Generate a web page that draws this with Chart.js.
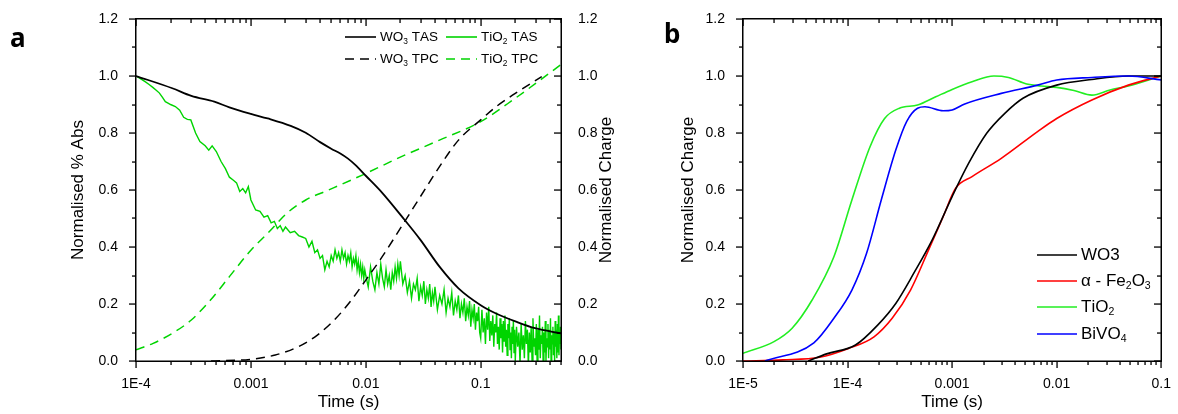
<!DOCTYPE html>
<html>
<head>
<meta charset="utf-8">
<script src="https://cdn.jsdelivr.net/npm/chart.js@4"></script>
<style>
  body { margin: 0; background: #fff; width: 1178px; height: 414px; position: relative; overflow: hidden; }
  #chartA { position: absolute; left: 0; top: 0; }
  #chartB { position: absolute; left: 650px; top: 0; }
</style>
</head>
<body>
<canvas id="chartA" width="650" height="414"></canvas>
<canvas id="chartB" width="528" height="414"></canvas>
<script>
// ---- Panel a data (time in s) ----
const wo3TasT = [1e-4, 2.07e-4, 3.03e-4, 4.8e-4, 6.5e-4, 1e-3, 1.4e-3, 2.22e-3, 3.0e-3, 4.0e-3, 5.0e-3, 6.0e-3, 7.0e-3, 8.1e-3, 0.01, 0.0139, 0.0204, 0.0299, 0.0438, 0.0641, 0.1, 0.139, 0.203, 0.297, 0.5];
const wo3TasV = [1.0, 0.957, 0.930, 0.910, 0.890, 0.867, 0.851, 0.825, 0.801, 0.768, 0.745, 0.728, 0.710, 0.688, 0.650, 0.590, 0.509, 0.425, 0.331, 0.255, 0.196, 0.165, 0.138, 0.115, 0.097];

const tiTasT = [
  1.0e-4, 1.1e-4, 1.2e-4, 1.3e-4, 1.4e-4, 1.5e-4, 1.6e-4, 1.7e-4, 1.8e-4, 1.9e-4, 2.0e-4, 2.2e-4, 2.4e-4, 2.6e-4, 2.8e-4, 3.0e-4, 3.3e-4, 3.6e-4, 4.0e-4, 4.3e-4, 4.6e-4, 5.0e-4, 5.5e-4, 6.0e-4, 6.5e-4, 7.0e-4, 7.5e-4, 8.0e-4, 8.5e-4, 9.0e-4, 9.5e-4,
  1.0e-3, 1.1e-3, 1.2e-3, 1.3e-3, 1.4e-3, 1.5e-3, 1.6e-3, 1.7e-3, 1.8e-3, 1.9e-3, 2.0e-3, 2.2e-3, 2.4e-3, 2.6e-3, 2.8e-3,
  3.0e-3, 3.2e-3, 3.4e-3, 3.6e-3, 3.8e-3, 4.0e-3, 4.2e-3, 4.4e-3, 4.6e-3, 4.8e-3, 5.0e-3, 5.2e-3, 5.4e-3, 5.6e-3, 5.8e-3, 6.0e-3, 6.2e-3, 6.4e-3, 6.6e-3, 6.8e-3,
  7.0e-3, 7.2e-3, 7.4e-3, 7.6e-3, 7.8e-3, 8.0e-3, 8.2e-3, 8.4e-3, 8.6e-3, 8.8e-3, 9.0e-3, 9.2e-3, 9.4e-3, 9.6e-3, 9.8e-3,
  0.0100, 0.0105, 0.0110, 0.0115, 0.0120, 0.0125, 0.0130, 0.0135, 0.0140, 0.0145, 0.0150, 0.0155, 0.0160, 0.0165, 0.0170, 0.0175, 0.0180, 0.0185, 0.0190, 0.0195,
  0.020, 0.021, 0.022, 0.023, 0.024, 0.025, 0.026, 0.027, 0.028, 0.029, 0.030, 0.031, 0.032, 0.033, 0.034, 0.035, 0.036, 0.037, 0.038, 0.039,
  0.040, 0.042, 0.044, 0.046, 0.048, 0.050, 0.052, 0.054, 0.056, 0.058, 0.060, 0.062, 0.064, 0.066, 0.068, 0.070, 0.072, 0.074, 0.076, 0.078, 0.080, 0.082, 0.084, 0.086, 0.088, 0.090, 0.092, 0.094, 0.096, 0.098,
  0.1000, 0.1025, 0.1050, 0.1075, 0.1100, 0.1125, 0.1150, 0.1175, 0.1200, 0.1225, 0.1250, 0.1275, 0.1300, 0.1325, 0.1350, 0.1375, 0.1400, 0.1425, 0.1450, 0.1475,
  0.1500, 0.1525, 0.1550, 0.1575, 0.1600, 0.1625, 0.1650, 0.1675, 0.1700, 0.1725, 0.1750, 0.1775, 0.1800, 0.1825, 0.1850, 0.1875, 0.1900, 0.1925, 0.1950, 0.1975,
  0.200, 0.205, 0.210, 0.215, 0.220, 0.225, 0.230, 0.235, 0.240, 0.245, 0.250, 0.255, 0.260, 0.265, 0.270, 0.275, 0.280, 0.285, 0.290, 0.295,
  0.300, 0.305, 0.310, 0.315, 0.320, 0.325, 0.330, 0.335, 0.340, 0.345, 0.350, 0.355, 0.360, 0.365, 0.370, 0.375, 0.380, 0.385, 0.390, 0.395,
  0.400, 0.405, 0.410, 0.415, 0.420, 0.425, 0.430, 0.435, 0.440, 0.445, 0.450, 0.455, 0.460, 0.465, 0.470, 0.475, 0.480, 0.485, 0.490, 0.495, 0.500
];
const tiTasV = [
  1.00, 0.99, 0.98, 0.97, 0.96, 0.95, 0.94, 0.925, 0.91, 0.905, 0.90, 0.893, 0.88, 0.855, 0.848, 0.846, 0.80, 0.77, 0.755, 0.74, 0.755, 0.735, 0.70, 0.675, 0.645, 0.635, 0.625, 0.595, 0.605, 0.59, 0.612,
  0.565, 0.53, 0.525, 0.505, 0.51, 0.485, 0.49, 0.465, 0.475, 0.455, 0.47, 0.45, 0.455, 0.44, 0.435,
  0.43, 0.40, 0.42, 0.38, 0.39, 0.36, 0.37, 0.32, 0.35, 0.33, 0.37, 0.35, 0.39, 0.36, 0.38, 0.35, 0.39, 0.36, 0.38, 0.34,
  0.37, 0.35, 0.38, 0.33, 0.36, 0.34, 0.37, 0.32, 0.35, 0.31, 0.34, 0.30, 0.33, 0.29, 0.32,
  0.30, 0.26, 0.33, 0.28, 0.25, 0.31, 0.27, 0.34, 0.29, 0.26, 0.32, 0.27, 0.30, 0.25, 0.31, 0.28, 0.33, 0.29, 0.34, 0.30,
  0.35, 0.27, 0.30, 0.24, 0.28, 0.22, 0.27, 0.25, 0.29, 0.21, 0.26, 0.23, 0.28, 0.20, 0.25, 0.22, 0.27, 0.19, 0.24, 0.21,
  0.26, 0.18, 0.23, 0.20, 0.25, 0.17, 0.22, 0.19, 0.24, 0.16, 0.21, 0.18, 0.23, 0.15, 0.20, 0.17, 0.22, 0.14, 0.19, 0.16, 0.21, 0.12, 0.18, 0.15, 0.20, 0.11, 0.17, 0.14, 0.19, 0.10,
  0.08, 0.18, 0.10, 0.15, 0.06, 0.17, 0.11, 0.19, 0.07, 0.14, 0.09, 0.16, 0.05, 0.13, 0.10, 0.17, 0.06, 0.12, 0.04, 0.15,
  0.08, 0.13, 0.03, 0.14, 0.07, 0.16, 0.05, 0.11, 0.02, 0.13, 0.08, 0.15, 0.04, 0.10, 0.01, 0.12, 0.06, 0.14, 0.03, 0.11,
  0.00, 0.12, 0.05, 0.10, -0.01, 0.13, 0.04, 0.09, 0.01, 0.14, 0.06, 0.11, -0.02, 0.10, 0.03, 0.12, 0.00, 0.15, 0.05, 0.08,
  0.02, 0.13, -0.01, 0.11, 0.04, 0.16, 0.01, 0.09, 0.06, 0.12, -0.02, 0.10, 0.03, 0.14, 0.00, 0.08, 0.05, 0.13, 0.01, 0.11,
  0.04, 0.15, -0.01, 0.09, 0.06, 0.12, 0.02, 0.10, 0.00, 0.14, 0.05, 0.11, 0.01, 0.13, 0.03, 0.16, 0.02, 0.10, 0.06, 0.12, 0.04
];

const wo3TpcT = [4.5e-4, 1e-3, 1.63e-3, 2.58e-3, 3.79e-3, 5.5e-3, 7.5e-3, 0.01, 0.0139, 0.0204, 0.0299, 0.0438, 0.0641, 0.1, 0.139, 0.2, 0.34];
const wo3TpcV = [0.0, 0.006, 0.021, 0.05, 0.091, 0.15, 0.214, 0.284, 0.366, 0.471, 0.577, 0.682, 0.775, 0.846, 0.895, 0.939, 0.998];

const tiTpcT = [1e-4, 1.41e-4, 2.07e-4, 3.03e-4, 4.45e-4, 6.5e-4, 1e-3, 1.4e-3, 2.05e-3, 3e-3, 4.75e-3, 0.01, 0.0204, 0.0438, 0.1, 0.2, 0.5];
const tiTpcV = [0.039, 0.062, 0.097, 0.144, 0.214, 0.296, 0.389, 0.448, 0.518, 0.565, 0.60, 0.658, 0.717, 0.775, 0.840, 0.922, 1.04];

// ---- Panel b data ----
const bWo3T = [4.2e-5, 6.3e-5, 1.19e-4, 1.94e-4, 2.89e-4, 4.3e-4, 6.45e-4, 1e-3, 1.44e-3, 2.14e-3, 3.19e-3, 4.76e-3, 0.01, 0.0217, 0.0484, 0.1];
const bWo3V = [0.0, 0.025, 0.056, 0.126, 0.202, 0.308, 0.425, 0.577, 0.694, 0.799, 0.869, 0.922, 0.968, 0.988, 1.0, 1.0];

const bFeT = [1e-5, 2.4e-5, 5.4e-5, 1.02e-4, 1.79e-4, 2.67e-4, 4e-4, 5.94e-4, 8.2e-4, 1.08e-3, 1.55e-3, 2.95e-3, 6.56e-3, 0.01, 0.0217, 0.0484, 0.1];
const bFeV = [0.0, 0.004, 0.013, 0.044, 0.085, 0.15, 0.249, 0.389, 0.506, 0.606, 0.647, 0.711, 0.805, 0.851, 0.916, 0.968, 1.0];

const bTiT = [1e-5, 1.98e-5, 2.95e-5, 4.58e-5, 7.4e-5, 1.1e-4, 1.64e-4, 2.26e-4, 3.13e-4, 4.67e-4, 6.97e-4, 1e-3, 1.55e-3, 2.51e-3, 3.46e-3, 5.16e-3, 7.1e-3, 0.01, 0.0146, 0.0217, 0.0324, 0.0484, 0.1];
const bTiV = [0.027, 0.068, 0.115, 0.214, 0.366, 0.565, 0.752, 0.851, 0.887, 0.898, 0.927, 0.953, 0.98, 1.0, 0.995, 0.972, 0.965, 0.96, 0.949, 0.933, 0.951, 0.965, 1.0];

const bBiT = [1.62e-5, 4.76e-5, 7.4e-5, 1.1e-4, 1.52e-4, 2.1e-4, 2.89e-4, 3.67e-4, 4.67e-4, 5.5e-4, 8.2e-4, 1e-3, 1.32e-3, 2.95e-3, 6.56e-3, 0.01, 0.0217, 0.0484, 0.1];
const bBiV = [0.0, 0.064, 0.15, 0.249, 0.378, 0.565, 0.74, 0.84, 0.887, 0.892, 0.878, 0.881, 0.902, 0.939, 0.968, 0.986, 0.995, 1.0, 0.986];

// ---- Ticks and names ----
const xTickValsA = [1e-4, 1e-3, 1e-2, 1e-1];
const xTickLabelsA = ['1E-4', '0.001', '0.01', '0.1'];
const xTickValsB = [1e-5, 1e-4, 1e-3, 1e-2, 1e-1];
const xTickLabelsB = ['1E-5', '1E-4', '0.001', '0.01', '0.1'];
const yTickVals = [0, 0.2, 0.4, 0.6, 0.8, 1.0, 1.2];
const yTickLabels = ['0.0', '0.2', '0.4', '0.6', '0.8', '1.0', '1.2'];
const namesA = ['WO_3 TAS', 'WO_3 TPC', 'TiO_2 TAS', 'TiO_2 TPC'];
const namesB = ['WO3', 'α - Fe_2O_3', 'TiO_2', 'BiVO_4'];

const FONT = '"Liberation Sans", Arial, sans-serif';
const pts = (t, v) => t.map((x, i) => ({ x: x, y: v[i] }));

// text with "_n" subscripts
function drawRich(ctx, text, x, y, size) {
  for (let i = 0; i < text.length; i++) {
    let ch = text[i], sub = false;
    if (ch === '_') { ch = text[++i]; sub = true; }
    ctx.font = (sub ? size * 0.62 : size) + 'px ' + FONT;
    ctx.fillText(ch, x, y + (sub ? size * 0.32 : 0));
    x += ctx.measureText(ch).width;
  }
}

// frame, ticks on all sides, legend, extra labels
const decor = {
  id: 'decor',
  afterDraw(chart, args, o) {
    const { ctx, chartArea: a } = chart;
    const xs = chart.scales.x, ys = chart.scales.y;
    const L = Math.round(a.left), R = Math.round(a.right), T = Math.round(a.top), B = Math.round(a.bottom);
    ctx.save();
    ctx.setLineDash([]);
    ctx.fillStyle = '#000';
    // frame
    ctx.fillRect(L - 1, T - 1, R - L + 2, 1.5);
    ctx.fillRect(L - 1, B - 0.5, R - L + 2, 1.5);
    ctx.fillRect(L - 1, T - 1, 1.5, B - T + 2);
    ctx.fillRect(R - 0.5, T - 1, 1.5, B - T + 2);
    // log ticks: bottom outward, top inward
    const d0 = Math.floor(Math.log10(xs.min) + 1e-9), d1 = Math.ceil(Math.log10(xs.max) - 1e-9);
    for (let d = d0; d <= d1; d++) {
      for (let m = 1; m <= 9; m++) {
        const v = m * Math.pow(10, d);
        if (v < xs.min * 0.999 || v > xs.max * 1.001) continue;
        const px = Math.round(xs.getPixelForValue(v)), len = m === 1 ? 7 : 4;
        ctx.fillRect(px - 0.6, B, 1.3, len);
        ctx.fillRect(px - 0.6, T, 1.3, len);
      }
    }
    // y ticks: left outward, right inward
    for (let k = 0; k <= 12; k++) {
      const py = Math.round(ys.getPixelForValue(k / 10)), len = k % 2 === 0 ? 7 : 4;
      ctx.fillRect(L - len, py - 0.6, len, 1.3);
      ctx.fillRect(R - len, py - 0.6, len, 1.3);
    }

    // legend
    ctx.textBaseline = 'middle';
    ctx.textAlign = 'left';
    o.legend.forEach(it => {
      const ds = chart.data.datasets[it.ds];
      ctx.strokeStyle = ds.borderColor;
      ctx.lineWidth = 1.6;
      ctx.setLineDash(ds.borderDash || []);
      ctx.beginPath();
      ctx.moveTo(it.x, it.y); ctx.lineTo(it.x + o.sample, it.y);
      ctx.stroke();
      ctx.setLineDash([]);
      drawRich(ctx, it.name, it.x + o.sample + 4, it.y, o.size);
    });

    // rotated right-hand title
    if (o.rightTitle) {
      ctx.save();
      ctx.translate(o.rightTitle.x, (a.top + a.bottom) / 2);
      ctx.rotate(-Math.PI / 2);
      ctx.textAlign = 'center';
      ctx.font = '17px ' + FONT;
      ctx.fillText(o.rightTitle.text, 0, 0);
      ctx.restore();
    }

    // panel letter
    ctx.font = 'bold 26px "Noto Sans", sans-serif';
    ctx.textBaseline = 'alphabetic';
    ctx.fillText(o.tag.text, o.tag.x, o.tag.y);
    ctx.restore();
  }
};

function xAxis(vals, labels, min, max) {
  return {
    type: 'logarithmic', min: min, max: max,
    grid: { display: false }, border: { display: false },
    afterBuildTicks: s => { s.ticks = vals.map(v => ({ value: v })); },
    afterFit: s => { s.height = 53; },
    ticks: { color: '#000', font: { family: FONT, size: 14 }, padding: 7, autoSkip: false, maxRotation: 0,
      callback: (v, i) => labels[i] },
    title: { display: true, text: 'Time (s)', color: '#000', font: { family: FONT, size: 17 }, padding: { top: 0, bottom: 1 } }
  };
}

function yAxis(pos, width, pad, title, titlePad) {
  return {
    type: 'linear', position: pos, min: 0, max: 1.2,
    grid: { display: false }, border: { display: false },
    afterBuildTicks: s => { s.ticks = yTickVals.map(v => ({ value: v })); },
    afterFit: s => { s.width = width; },
    ticks: { color: '#000', font: { family: FONT, size: 14 }, padding: pad,
      callback: (v, i) => yTickLabels[i] },
    title: { display: !!title, text: title || '', color: '#000', font: { family: FONT, size: 17 }, padding: { top: titlePad, bottom: 0 } }
  };
}

const lineDs = (label, data, color, extra) => Object.assign({
  label: label, data: data, borderColor: color, backgroundColor: color,
  borderWidth: 1.6, pointRadius: 0, cubicInterpolationMode: 'monotone', fill: false
}, extra || {});

const GREEN_A = '#00d400';
const DASH = [9, 6];

new Chart(document.getElementById('chartA'), {
  type: 'line',
  data: {
    datasets: [
      lineDs(namesA[0], pts(wo3TasT, wo3TasV), '#000000', { yAxisID: 'y', borderWidth: 1.8 }),
      lineDs(namesA[1], pts(wo3TpcT, wo3TpcV), '#000000', { yAxisID: 'y2', borderDash: DASH, borderWidth: 1.5 }),
      lineDs(namesA[2], pts(tiTasT, tiTasV), GREEN_A, { yAxisID: 'y', cubicInterpolationMode: 'default', tension: 0, borderWidth: 1.4 }),
      lineDs(namesA[3], pts(tiTpcT, tiTpcV), GREEN_A, { yAxisID: 'y2', borderDash: DASH, borderWidth: 1.5 })
    ]
  },
  options: {
    responsive: false, animation: false,
    layout: { padding: { top: 19, left: 0, right: 0, bottom: 0 } },
    scales: {
      x: xAxis(xTickValsA, xTickLabelsA, 1e-4, 0.5),
      y: yAxis('left', 136, 10, 'Normalised % Abs', 68),
      y2: yAxis('right', 89, 9, '', 0)
    },
    plugins: {
      legend: { display: false }, tooltip: { enabled: false },
      decor: {
        sample: 31, size: 13.5,
        legend: [
          { ds: 0, name: namesA[0], x: 345, y: 37 },
          { ds: 2, name: namesA[2], x: 446, y: 37 },
          { ds: 1, name: namesA[1], x: 345, y: 59 },
          { ds: 3, name: namesA[3], x: 446, y: 59 }
        ],
        rightTitle: { text: 'Normalised Charge', x: 606 },
        tag: { text: 'a', x: 10, y: 47 }
      }
    }
  },
  plugins: [decor]
});

new Chart(document.getElementById('chartB'), {
  type: 'line',
  data: {
    datasets: [
      lineDs(namesB[3], pts(bBiT, bBiV), '#0000ff'),
      lineDs(namesB[0], pts(bWo3T, bWo3V), '#000000'),
      lineDs(namesB[1], pts(bFeT, bFeV), '#ff0000'),
      lineDs(namesB[2], pts(bTiT, bTiV), '#22ee22')
    ]
  },
  options: {
    responsive: false, animation: false,
    layout: { padding: { top: 19, left: 0, right: 10, bottom: 0 } },
    scales: {
      x: xAxis(xTickValsB, xTickLabelsB, 1e-5, 0.1),
      y: yAxis('left', 93, 10, 'Normalised Charge', 28)
    },
    plugins: {
      legend: { display: false }, tooltip: { enabled: false },
      decor: {
        sample: 40, size: 17,
        legend: [
          { ds: 1, name: namesB[0], x: 387, y: 255 },
          { ds: 2, name: namesB[1], x: 387, y: 281 },
          { ds: 3, name: namesB[2], x: 387, y: 307 },
          { ds: 0, name: namesB[3], x: 387, y: 334 }
        ],
        tag: { text: 'b', x: 14, y: 43 }
      }
    }
  },
  plugins: [decor]
});
</script>
</body>
</html>
